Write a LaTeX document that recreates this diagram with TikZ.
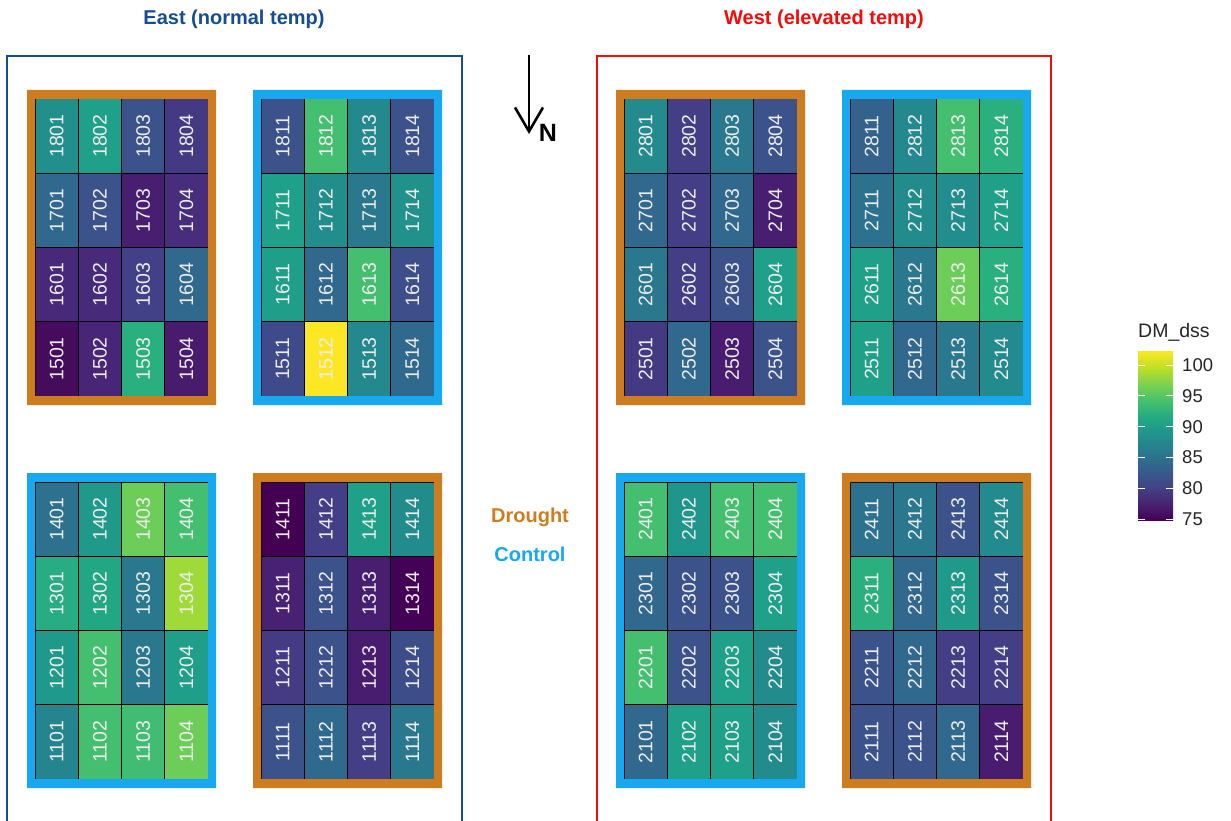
\documentclass[tikz,border=0pt]{standalone}
\usepackage{fontspec}
\setmainfont{Liberation Sans}
\usetikzlibrary{arrows.meta}
\definecolor{eastblue}{HTML}{164C91}
\definecolor{westred}{HTML}{F50A0A}
\definecolor{drought}{HTML}{CD7D1F}
\definecolor{control}{HTML}{17A8F0}
\definecolor{vA}{HTML}{440154}
\definecolor{vB}{HTML}{482475}
\definecolor{vC}{HTML}{414487}
\definecolor{vD}{HTML}{355F8D}
\definecolor{vE}{HTML}{2A788E}
\definecolor{vF}{HTML}{21918C}
\definecolor{vG}{HTML}{22A884}
\definecolor{vH}{HTML}{44BF70}
\definecolor{vI}{HTML}{7AD151}
\definecolor{vJ}{HTML}{BDDF26}
\definecolor{vK}{HTML}{FDE725}
\pgfdeclareverticalshading{viridis}{100bp}{color(0bp)=(vA); color(25bp)=(vA); color(30bp)=(vB); color(35bp)=(vC); color(40bp)=(vD); color(45bp)=(vE); color(50bp)=(vF); color(55bp)=(vG); color(60bp)=(vH); color(65bp)=(vI); color(70bp)=(vJ); color(75bp)=(vK); color(100bp)=(vK)}
\tikzset{
  cellbox/.style={draw=black, line width=1pt, inner sep=0pt, minimum width=43.25pt, minimum height=74.25pt, text=white!93!black, font=\fontsize{19.5}{19.5}\selectfont},
  boldlab/.style={font=\bfseries\fontsize{20}{20}\selectfont, inner sep=0pt},
  legtxt/.style={font=\fontsize{18.5}{18.5}\selectfont, inner sep=0pt, text=black!85},
  frameline/.style={line width=2pt}
}
\newcommand\drawplotblock[4]{%
  \foreach \lab/\hx [count=\i from 0] in {#4} {
    \pgfmathtruncatemacro{\rr}{floor(\i/4)}
    \pgfmathtruncatemacro{\cc}{mod(\i,4)}
    \definecolor{cellc}{HTML}{\hx}
    \node[cellbox, fill=cellc] (c\lab) at ({#1+8+43.25*(\cc+0.5)},{#2+9+74.25*(\rr+0.5)}) {\rotatebox{90}{\lab}};
  }
  \fill[#3, even odd rule] (#1,#2) rectangle ++(189,315) (#1+8,#2+9) rectangle ++(173,297);
}
\begin{document}
\begin{tikzpicture}[x=1pt,y=-1pt]
\clip (0,0) rectangle (1231,821);
\fill[white] (0,0) rectangle (1231,821);
% titles
\node[boldlab, text=eastblue] (easttitle) at (234,19) {East (normal temp)};
\node[boldlab, text=westred] (westtitle) at (824,19) {West (elevated temp)};
% frames
\draw[frameline, draw=eastblue] (7,830) -- (7,56) -- (462,56) -- (462,830);
\draw[frameline, draw=westred] (597,830) -- (597,56) -- (1051,56) -- (1051,830);
% blocks
\drawplotblock{27}{90}{drought}{1801/21908D, 1802/1FA088, 1803/3B528B, 1804/443A83,
1701/31688E, 1702/3B528B, 1703/481F70, 1704/472D7B,
1601/482878, 1602/472A7A, 1603/424086, 1604/31688E,
1501/450C5E, 1502/482576, 1503/2AB07F, 1504/481B6D}
\drawplotblock{253}{90}{control}{1811/3B528B, 1812/44BF70, 1813/23898E, 1814/3B528B,
1711/1FA088, 1712/228D8D, 1713/2A788E, 1714/21918C,
1611/1F9E89, 1612/31688E, 1613/44BF70, 1614/3D4E8A,
1511/3E4A89, 1512/FDE725, 1513/23898E, 1514/30698E}
\drawplotblock{27}{473}{control}{1401/2C728E, 1402/1F9A8A, 1403/6DCD59, 1404/44BF70,
1301/27AD81, 1302/22A785, 1303/2A788E, 1304/A0DA39,
1201/1F9A8A, 1202/44BF70, 1203/2A788E, 1204/1F9E89,
1101/25858E, 1102/44BF70, 1103/40BD72, 1104/6DCD59}
\drawplotblock{253}{473}{drought}{1411/440154, 1412/433E85, 1413/1FA088, 1414/228C8D,
1311/482173, 1312/3B528B, 1313/481F70, 1314/440256,
1211/443B84, 1212/3B528B, 1213/481C6E, 1214/3D4D8A,
1111/3B528B, 1112/30698E, 1113/433E85, 1114/2A788E}
\drawplotblock{616}{90}{drought}{2801/238A8D, 2802/433E85, 2803/2A788E, 2804/3B528B,
2701/31688E, 2702/433E85, 2703/31688E, 2704/481F70,
2601/2A788E, 2602/433E85, 2603/3B528B, 2604/1FA088,
2501/443983, 2502/31688E, 2503/481C6E, 2504/3B528B}
\drawplotblock{842}{90}{control}{2811/33638D, 2812/23898E, 2813/44BF70, 2814/2AB07F,
2711/2C728E, 2712/228C8D, 2713/228D8D, 2714/1FA088,
2611/1FA088, 2612/2A788E, 2613/6DCD59, 2614/2AB07F,
2511/1FA088, 2512/31688E, 2513/2A788E, 2514/238A8D}
\drawplotblock{616}{473}{control}{2401/44BF70, 2402/1F968B, 2403/44BF70, 2404/44BF70,
2301/31688E, 2302/3B528B, 2303/3B528B, 2304/1FA088,
2201/44BF70, 2202/3B528B, 2203/1FA088, 2204/228C8D,
2101/31688E, 2102/1FA088, 2103/1FA088, 2104/228C8D}
\drawplotblock{842}{473}{drought}{2411/2C728E, 2412/2A788E, 2413/3B528B, 2414/238A8D,
2311/2AB07F, 2312/31688E, 2313/1F9A8A, 2314/3B528B,
2211/3B528B, 2212/31688E, 2213/433E85, 2214/433E85,
2111/3B528B, 2112/3B528B, 2113/31688E, 2114/481C6E}
% treatment key
\node[boldlab, text=drought] (droughtlab) at (530,517) {Drought};
\node[boldlab, text=control] (controllab) at (530,554) {Control};
% north arrow
\coordinate (ntop) at (529,55);
\coordinate (nbot) at (529,134);
\draw[line width=2.6pt, -{Straight Barb[length=24pt,width=28pt]}] (ntop) -- (nbot);
\node[font=\bfseries\fontsize{25}{25}\selectfont, inner sep=0pt] (N) at (548,133) {N};
% legend
\node[font=\fontsize{19.5}{19.5}\selectfont, inner sep=0pt, anchor=west, text=black!85] (legtitle) at (1138,332) {DM\_dss};
\shade[shading=viridis] (1138,351) rectangle (1173,520);
\foreach \v/\yy in {100/365, 95/395.7, 90/426.7, 85/457.3, 80/488.3, 75/519.2} {
  \draw[white, line width=0.8pt] (1138,\yy) -- (1145,\yy) (1166,\yy) -- (1173,\yy);
  \node[legtxt, anchor=west] (leg\v) at (1182,\yy) {\v};
}
\end{tikzpicture}
\end{document}
